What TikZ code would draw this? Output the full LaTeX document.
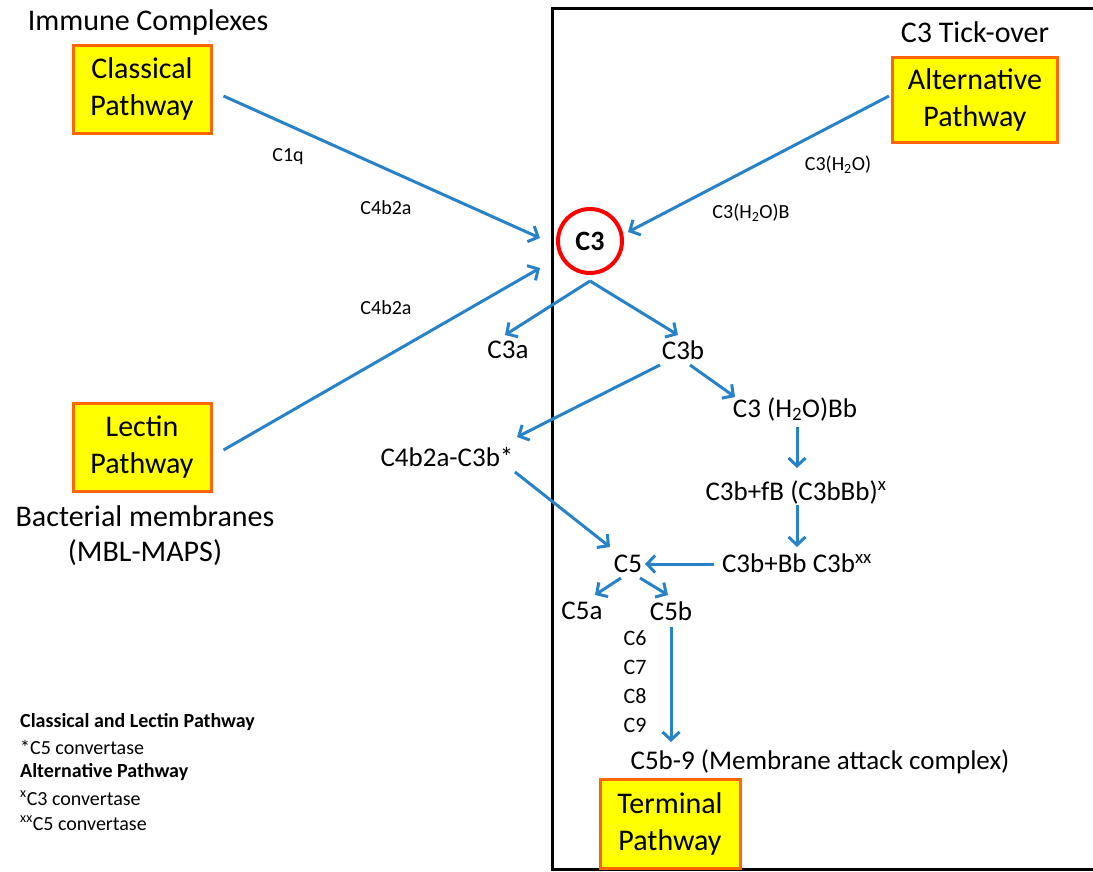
\documentclass[tikz,border=0pt]{standalone}
\usepackage{fontspec}
\setmainfont{Carlito}
\usetikzlibrary{arrows.meta}
\definecolor{flowblue}{RGB}{40,130,200}
\definecolor{boxorange}{RGB}{255,102,0}
\definecolor{boxyellow}{RGB}{255,255,0}
\tikzset{
  pathbox/.style={draw=boxorange, line width=3pt, fill=boxyellow, align=center,
    inner sep=0pt, font=\fontsize{30}{37}\selectfont},
  flow/.style={draw=flowblue, line width=3pt, -{Straight Barb[length=8pt,width=17pt,line width=3pt]}},
  bigtext/.style={inner sep=0pt, font=\fontsize{30}{35}\selectfont, align=center},
  midtext/.style={inner sep=0pt, font=\fontsize{27}{32}\selectfont},
  smalltext/.style={inner sep=0pt, font=\fontsize{20}{24}\selectfont},
  legendtext/.style={inner sep=0pt, anchor=west, font=\fontsize{20}{24}\selectfont}
}
\begin{document}
\begin{tikzpicture}[x=1pt,y=-1pt]
    \useasboundingbox (0,0) rectangle (1093,871);

    % Right frame
    \draw[line width=3pt] (1093,8) -- (552,8) -- (552,869) -- (1093,869);

    % Pathway boxes
    \node[pathbox, minimum width=138, minimum height=88] (classical) at (142,89) {\raisebox{-3pt}{Classical}\\\raisebox{-3pt}{Pathway}};
    \node[pathbox, minimum width=138, minimum height=88] (lectin) at (142,447) {\raisebox{-3pt}{Lectin}\\\raisebox{-3pt}{Pathway}};
    \node[pathbox, minimum width=165, minimum height=85] (alternative) at (975,100) {Alternative\\Pathway};
    \node[pathbox, minimum width=140, minimum height=89] (terminal) at (670,824) {Terminal\\Pathway};

    \node[bigtext] (immune) at (148,22) {Immune Complexes};
    \node[bigtext] (bacterial) at (145,536) {Bacterial membranes\\(MBL-MAPS)};
    \node[bigtext] (tickover) at (975,32) {C3 Tick-over};

    % C3 and products
    \node[circle, draw=red, line width=4pt, minimum size=64, inner sep=0pt,
          font=\fontsize{28}{32}\selectfont\bfseries] (c3) at (590,241) {C3};
    \node[midtext] (c3a) at (508,350) {C3a};
    \node[midtext] (c3b) at (683,350) {C3b};
    \node[midtext] (c4c3) at (447,457) {C4b2a-C3b*};
    \node[midtext] (h2obb) at (795,409) {C3 (H\textsubscript{2}O)Bb};
    \node[midtext] (fb) at (796,492) {C3b+fB (C3bBb)\textsuperscript{x}};
    \node[midtext] (bb) at (797,563) {C3b+Bb C3b\textsuperscript{xx}};
    \node[midtext] (c5) at (628,564) {C5};
    \node[midtext] (c5a) at (582,611) {C5a};
    \node[midtext] (c5b) at (671,611) {C5b};
    \node[midtext] (mac) at (820,762) {C5b-9 (Membrane attack complex)};

    % Terminal components
    \foreach \n/\yy in {6/638,7/667,8/696,9/725}
        \node[inner sep=0pt, font=\fontsize{22}{26}\selectfont] (c\n) at (635,\yy) {C\n};

    % Arrow labels
    \node[smalltext] (c1q) at (288,157) {C1q};
    \node[smalltext] (c4top) at (386,208) {C4b2a};
    \node[smalltext] (c4bot) at (386,308) {C4b2a};
    \node[smalltext] (h2o) at (838,165) {C3(H\textsubscript{2}O)};
    \node[smalltext] (h2ob) at (751,213) {C3(H\textsubscript{2}O)B};

    % Arrows
    \draw[flow] ([shift={(11,7)}]classical.east) -- ([shift={(-50,-3)}]c3.center);
    \draw[flow] ([shift={(11,3)}]lectin.east) -- ([shift={(-50,27)}]c3.center);
    \draw[flow] ([shift={(-2,-4)}]alternative.west) -- ([shift={(38,-9)}]c3.center);
    \draw[flow] ([shift={(0,40)}]c3.center) -- ([shift={(-3,-15)}]c3a.center);
    \draw[flow] ([shift={(0,40)}]c3.center) -- ([shift={(-5,-15)}]c3b.center);
    \draw[flow] ([shift={(-23,15)}]c3b.center) -- ([shift={(70,-20)}]c4c3.center);
    \draw[flow] ([shift={(7,15)}]c3b.center) -- ([shift={(-60,-12)}]h2obb.center);
    \draw[flow] ([shift={(2,18)}]h2obb.center) -- ([shift={(1,-24)}]fb.center);
    \draw[flow] ([shift={(1,13)}]fb.center) -- ([shift={(0,-16)}]bb.center);
    \draw[flow] ([shift={(-83,1)}]bb.center) -- ([shift={(17,0)}]c5.center);
    \draw[flow] ([shift={(68,15)}]c4c3.center) -- ([shift={(-18,-17)}]c5.center);
    \draw[flow] ([shift={(-7,14)}]c5.center) -- ([shift={(13,-16)}]c5a.center);
    \draw[flow] ([shift={(12,14)}]c5.center) -- ([shift={(-3,-16)}]c5b.center);
    \draw[flow] ([shift={(0,16)}]c5b.center) -- ([shift={(-149,-20)}]mac.center);

    % Legend
    \node[legendtext, font=\fontsize{20}{24}\selectfont\bfseries] (leg1) at (20,722) {Classical and Lectin Pathway};
    \node[legendtext] (leg2) at (20,747) {*C5 convertase};
    \node[legendtext, font=\fontsize{20}{24}\selectfont\bfseries] (leg3) at (20,772) {Alternative Pathway};
    \node[legendtext] (leg4) at (20,798) {\textsuperscript{x}C3 convertase};
    \node[legendtext] (leg5) at (20,823) {\textsuperscript{xx}C5 convertase};
\end{tikzpicture}
\end{document}
